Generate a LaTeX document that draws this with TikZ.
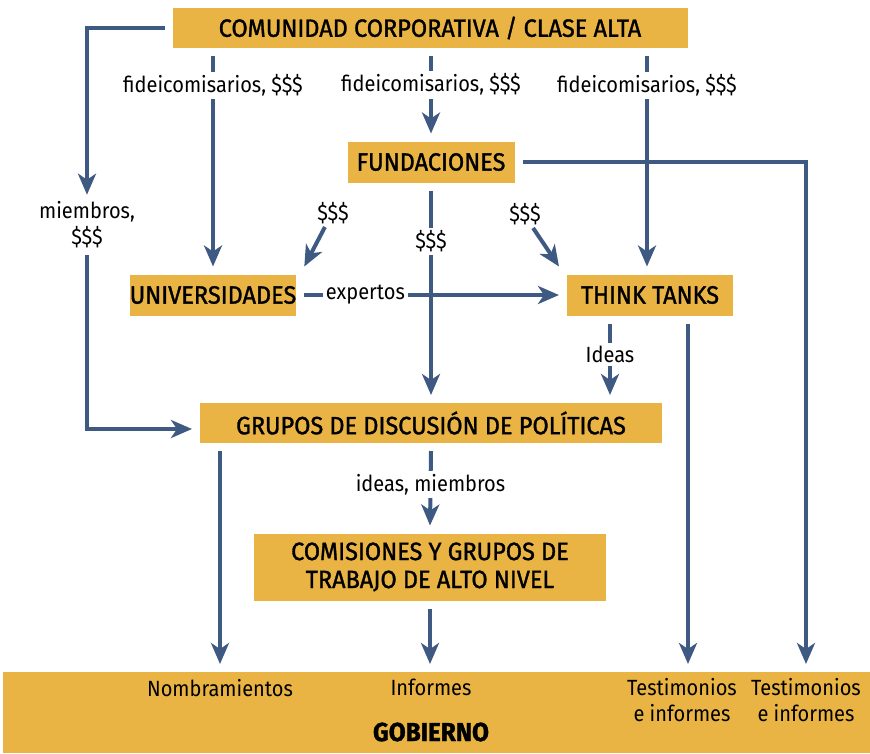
\documentclass[tikz,border=0pt]{standalone}
\usepackage{fontspec}
\setmainfont{Fira Sans}[FakeStretch=0.91]
\newfontfamily\boxfont{Fira Sans}[FakeStretch=0.94, FakeBold=1.3]
\usetikzlibrary{arrows.meta}

\definecolor{boxfill}{HTML}{E9B444}
\definecolor{flowblue}{HTML}{3E5A82}
\tikzset{box/.style={fill=boxfill, inner sep=0pt, outer sep=8pt, align=center,
        font=\boxfont\fontsize{25}{28}\selectfont},
    flow/.style={draw=flowblue, line width=4pt,
        -{Stealth[length=21pt, width=18pt, inset=6pt]}},
    lbl/.style={fill=white, inner sep=3pt, align=center,
        font=\fontsize{22}{26}\selectfont},
    govlbl/.style={inner sep=0pt, align=center, font=\fontsize{22}{26}\selectfont}}

\begin{document}
\begin{tikzpicture}[x=1pt, y=-1pt]
    \useasboundingbox (0,0) rectangle (870,753);

    % cajas
    \node[box, minimum width=515pt, minimum height=40pt] (corp) at (430,28) {COMUNIDAD CORPORATIVA / CLASE ALTA};
    \node[box, minimum width=167pt, minimum height=41pt] (fund) at (431,162) {FUNDACIONES};
    \node[box, minimum width=166pt, minimum height=41pt] (univ) at (213,295) {UNIVERSIDADES};
    \node[box, minimum width=166pt, minimum height=41pt] (think) at (650,295) {THINK TANKS};
    \node[box, minimum width=462pt, minimum height=40pt] (grupos) at (431,423) {GRUPOS DE DISCUSIÓN DE POLÍTICAS};
    \node[box, minimum width=352pt, minimum height=67pt] (comis) at (430,567) {COMISIONES Y GRUPOS DE\\TRABAJO DE ALTO NIVEL};
    \node[box, minimum width=867pt, minimum height=81pt] (gob) at (436.5,712.5) {};
    \node[box, outer sep=0pt, font=\boxfont\bfseries\fontsize{26}{28}\selectfont] (gobt) at (431,732) {GOBIERNO};

    % textos del gobierno
    \node[govlbl] (nomb) at (220,688) {Nombramientos};
    \node[govlbl] (inf) at (431,687) {Informes};
    \node[govlbl] (test1) at (682,700) {Testimonios\\e informes};
    \node[govlbl] (test2) at (806,700) {Testimonios\\e informes};

    % etiquetas sueltas
    \node[lbl, outer sep=4pt] (miem) at (87,225) {miembros,\\\$\$\$};
    \node[lbl] (dl) at (333,213) {\$\$\$};
    \node[lbl] (dr) at (525,214) {\$\$\$};

    % flechas
    \draw[flow] (corp.west) -| (miem.north);
    \draw[flow] (miem.south) |- ([yshift=-6pt]grupos.west);
    \draw[flow] (univ |- corp.south) -- node[lbl, pos=0.14] {fideicomisarios, \$\$\$} (univ.north);
    \draw[flow] (fund |- corp.south) -- node[lbl, pos=0.37] {fideicomisarios, \$\$\$} (fund.north);
    \draw[flow] ([xshift=-3pt]think.north |- corp.south) -- node[lbl, pos=0.14] {fideicomisarios, \$\$\$} ([xshift=-3pt]think.north);
    \draw[flow] (fund.east) -| (test2 |- gob.north);
    \draw[flow] (fund.south) -- node[lbl, pos=0.25] {\$\$\$} (grupos.north);
    \draw[flow] (dl.240) -- (univ.north east);
    \draw[flow] (dr.300) -- (think.north west);
    \draw[flow] (univ.east) -- node[lbl, pos=0.24] {expertos} (think.west);
    \draw[flow] ([xshift=-40pt]think.south) -- node[lbl, pos=0.43] {Ideas} ([xshift=-40pt]think.south |- grupos.north);
    \draw[flow] ([xshift=38pt]think.south) -- ([xshift=38pt]think.south |- gob.north);
    \draw[flow] (grupos.south -| nomb) -- (nomb |- gob.north);
    \draw[flow] (grupos.south) -- node[lbl, pos=0.45] {ideas, miembros} (comis.north);
    \draw[flow] (comis.south) -- (comis.south |- gob.north);
\end{tikzpicture}
\end{document}
